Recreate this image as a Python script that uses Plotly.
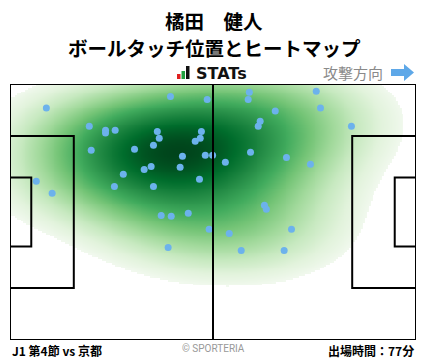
import numpy as np
import plotly.graph_objects as go

# ---- data (pitch metres, 105 x 68; attacking to the right) ----
touch_x = [9.4, 41.5, 51.0, 20.5, 24.7, 24.7, 27.2, 38.1, 38.6, 49.5,
           49.2, 47.9, 37.1, 21.0, 32.2, 44.6, 50.5, 52.4, 34.7, 36.5,
           44.0, 29.3, 6.8, 10.9, 27.0, 37.1, 49.0, 39.1, 41.7, 46.1,
           51.5, 40.9, 61.9, 61.6, 79.2, 80.3, 68.6, 64.7, 64.2, 88.3,
           62.2, 55.7, 71.5, 77.7, 65.8, 66.3, 72.8, 56.7, 59.8, 70.9]
touch_y = [61.6, 64.7, 63.9, 56.8, 55.7, 55.0, 55.7, 55.4, 53.6, 55.4,
           53.6, 52.8, 51.7, 50.4, 50.7, 48.8, 49.1, 49.1, 45.3, 46.1,
           45.9, 44.0, 42.2, 39.0, 40.8, 40.8, 42.7, 33.1, 32.9, 33.7,
           29.4, 24.6, 65.8, 63.9, 66.1, 61.6, 60.8, 58.1, 56.8, 56.8,
           49.9, 47.2, 48.5, 46.7, 35.8, 34.7, 29.4, 28.3, 23.8, 23.8]

title_name = "橘田　健人"
title_sub = "ボールタッチ位置とヒートマップ"
match_label = "J1 第4節 vs 京都"
minutes_label = "出場時間：77分"
PITCH_L, PITCH_W = 105.0, 68.0

# ---- gaussian KDE of the touches ----
pts = np.vstack([touch_x, touch_y])
n = pts.shape[1]
scott = n ** (-1.0 / 6.0)
bw = np.diag([1.85, 1.55]) * scott
cov = bw @ np.cov(pts) @ bw
inv = np.linalg.inv(cov)
gx = np.linspace(0, PITCH_L, 211)
gy = np.linspace(0, PITCH_W, 137)
GX, GY = np.meshgrid(gx, gy)
grid = np.vstack([GX.ravel(), GY.ravel()])
dens = np.zeros(grid.shape[1])
for i in range(n):
    d = grid - pts[:, i:i + 1]
    dens += np.exp(-0.5 * np.sum(d * (inv @ d), axis=0))
Z = dens.reshape(GX.shape)
Z = Z / Z.max()
thresh = 0.13
Zs = np.where(Z < thresh, np.nan, ((Z - thresh) / (1 - thresh)) ** 0.8)

greens = [[0.0, "#f2f9ef"], [0.125, "#e2f3dc"], [0.25, "#c7e9c0"], [0.375, "#a1d99b"],
          [0.5, "#74c476"], [0.625, "#41ab5d"], [0.75, "#238b45"], [0.875, "#006d2c"],
          [1.0, "#00441b"]]

fig = go.Figure()
fig.add_trace(go.Heatmap(x=gx, y=gy, z=Zs, colorscale=greens, zmin=0, zmax=1.0,
                         zsmooth="best", showscale=False, hoverinfo="skip"))
fig.add_trace(go.Scatter(x=touch_x, y=touch_y, mode="markers",
                         marker=dict(size=7, color="#6cb2ec"), hoverinfo="skip"))

# ---- pitch lines ----
line = dict(color="black", width=2)
pa_d, pa_w = 16.5, 40.32
ga_d, ga_w = 5.5, 18.32
cy = PITCH_W / 2
shapes = [
    dict(type="rect", x0=0, x1=PITCH_L, y0=0, y1=PITCH_W, line=line),
    dict(type="line", x0=PITCH_L / 2, x1=PITCH_L / 2, y0=0, y1=PITCH_W, line=line),
    dict(type="rect", x0=0, x1=pa_d, y0=cy - pa_w / 2, y1=cy + pa_w / 2, line=line),
    dict(type="rect", x0=0, x1=ga_d, y0=cy - ga_w / 2, y1=cy + ga_w / 2, line=line),
    dict(type="rect", x0=PITCH_L - pa_d, x1=PITCH_L, y0=cy - pa_w / 2, y1=cy + pa_w / 2, line=line),
    dict(type="rect", x0=PITCH_L - ga_d, x1=PITCH_L, y0=cy - ga_w / 2, y1=cy + ga_w / 2, line=line),
]
for s in shapes:
    s.update(xref="x", yref="y", layer="above")

# helper: pixel -> paper
W, H = 428, 359
L, R, T, B = 10, 12, 84, 19
def px(x):
    return (x - L) / (W - L - R)
def py(y):
    return (H - B - y) / (H - T - B)

# logo bars
shapes += [
    dict(type="rect", xref="paper", yref="paper", x0=px(177), x1=px(180.5), y0=py(79), y1=py(74),
         fillcolor="#e02020", line=dict(width=0)),
    dict(type="rect", xref="paper", yref="paper", x0=px(181.5), x1=px(185), y0=py(79), y1=py(71),
         fillcolor="#22a040", line=dict(width=0)),
    dict(type="rect", xref="paper", yref="paper", x0=px(186), x1=px(189.5), y0=py(79), y1=py(66),
         fillcolor="#111111", line=dict(width=0)),
]
# attack-direction arrow
ax0, ax1, axm = 391, 414, 404
shapes.append(dict(type="path", xref="paper", yref="paper",
                   path=(f"M {px(ax0)},{py(69)} L {px(axm)},{py(69)} L {px(axm)},{py(64)} "
                         f"L {px(ax1)},{py(72.5)} L {px(axm)},{py(81)} L {px(axm)},{py(76)} "
                         f"L {px(ax0)},{py(76)} Z"),
                   fillcolor="#5ea8e8", line=dict(width=0)))

font_jp = "Noto Sans CJK JP"
ann = [
    dict(x=px(214), y=py(20), text=f"<b>{title_name}</b>",
         font=dict(size=19.5, color="black", family=font_jp)),
    dict(x=px(214), y=py(47), text=f"<b>{title_sub}</b>",
         font=dict(size=19.5, color="black", family=font_jp)),
    dict(x=px(194), y=py(73), text="<b>STATs</b>", xanchor="left",
         font=dict(size=16, color="#111111", family="DejaVu Sans")),
    dict(x=px(385), y=py(72), text="攻撃方向", xanchor="right",
         font=dict(size=15, color="#8a8a8a", family=font_jp)),
    dict(x=px(10), y=py(350), text=f"<b>{match_label}</b>", xanchor="left",
         font=dict(size=12, color="black", family=font_jp)),
    dict(x=px(213), y=py(348), text="© SPORTERIA",
         font=dict(size=10, color="#999999", family="Roboto")),
    dict(x=px(416), y=py(350), text=f"<b>{minutes_label}</b>", xanchor="right",
         font=dict(size=12, color="black", family=font_jp)),
]
for a in ann:
    a.update(xref="paper", yref="paper", showarrow=False)
    a.setdefault("xanchor", "center")
    a["yanchor"] = "middle"

fig.update_layout(
    width=W, height=H,
    margin=dict(l=L, r=R, t=T, b=B, pad=0),
    paper_bgcolor="white", plot_bgcolor="white",
    showlegend=False,
    xaxis=dict(range=[0, PITCH_L], visible=False, fixedrange=True),
    yaxis=dict(range=[0, PITCH_W], visible=False, fixedrange=True),
    shapes=shapes, annotations=ann,
)
fig.write_html("out.html", config={"displayModeBar": False},
               post_script="document.body.style.margin='0';document.body.style.overflow='hidden';")
